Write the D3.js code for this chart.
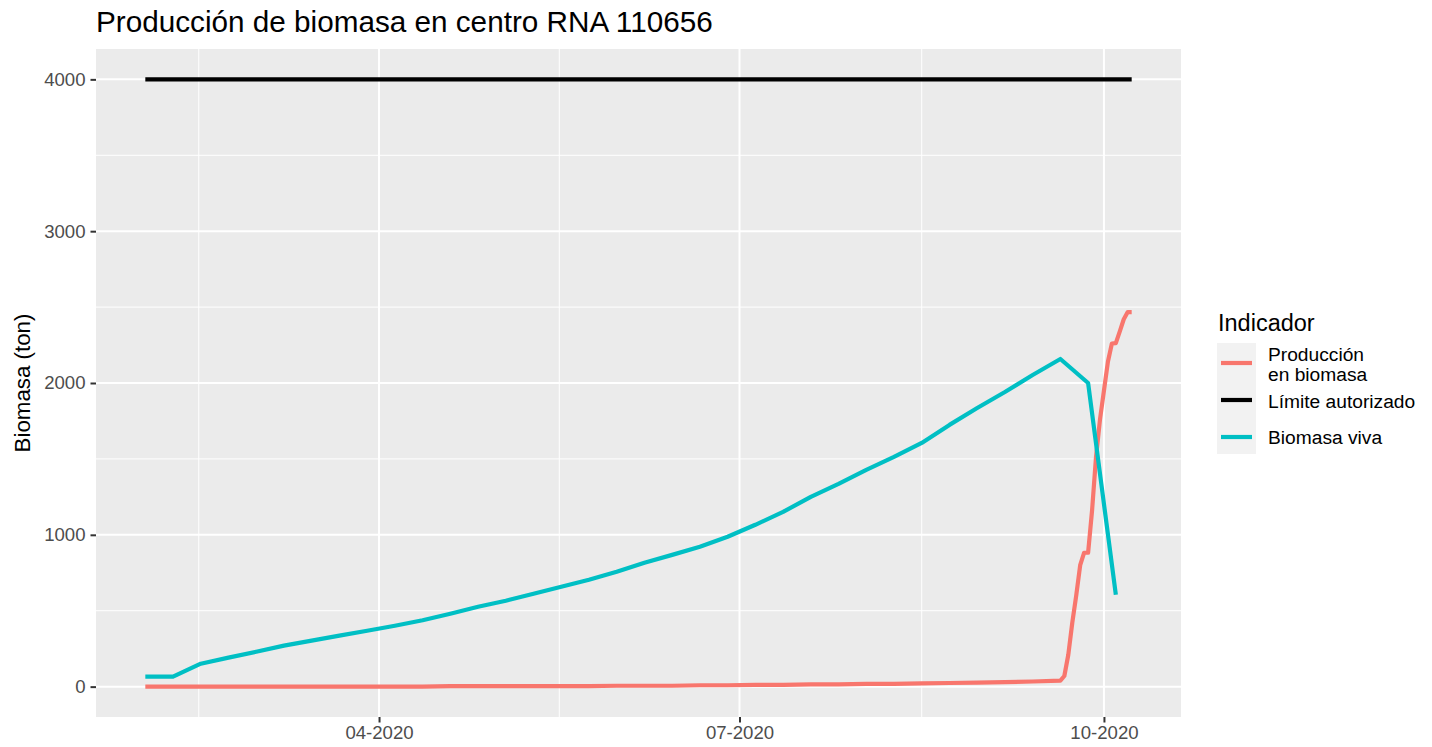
<!DOCTYPE html>
<html>
<head>
<meta charset="utf-8">
<script src="https://d3js.org/d3.v7.min.js"></script>
<style>
  body { margin: 0; background: #fff; }
  svg { font-family: "Liberation Sans", Arial, sans-serif; }
</style>
</head>
<body>
<script>
var width = 1432;
var height = 747;

var chartTitle = "Producción de biomasa en centro RNA 110656";
var yTitle = "Biomasa (ton)";
var legendTitle = "Indicador";

// Biomasa viva (semanal)
var vivaDates = ["2020-02-02", "2020-02-09", "2020-02-16", "2020-02-23", "2020-03-01", "2020-03-08",
  "2020-03-15", "2020-03-22", "2020-03-29", "2020-04-05", "2020-04-12", "2020-04-19",
  "2020-04-26", "2020-05-03", "2020-05-10", "2020-05-17", "2020-05-24", "2020-05-31",
  "2020-06-07", "2020-06-14", "2020-06-21", "2020-06-28", "2020-07-05", "2020-07-12",
  "2020-07-19", "2020-07-26", "2020-08-02", "2020-08-09", "2020-08-16", "2020-08-23",
  "2020-08-30", "2020-09-06", "2020-09-13", "2020-09-20", "2020-09-27", "2020-10-04"];
var vivaValues = [66, 66, 151, 191, 230, 270, 303, 336, 368, 401, 437, 480,
  526, 566, 612, 658, 704, 757, 816, 868, 921, 987, 1066, 1151,
  1250, 1336, 1428, 1513, 1605, 1724, 1835, 1941, 2053, 2158, 2000, 605];

// Producción en biomasa (acumulada)
var prodDates = ["2020-02-02", "2020-04-12", "2020-04-19", "2020-05-24", "2020-05-31", "2020-06-14",
  "2020-06-21", "2020-06-28", "2020-07-05", "2020-07-12", "2020-07-19", "2020-07-26",
  "2020-08-02", "2020-08-09", "2020-08-16", "2020-08-23", "2020-08-30", "2020-09-06",
  "2020-09-13", "2020-09-20", "2020-09-21", "2020-09-22", "2020-09-23", "2020-09-24",
  "2020-09-25", "2020-09-26", "2020-09-27", "2020-09-28", "2020-09-29", "2020-09-30",
  "2020-10-01", "2020-10-02", "2020-10-03", "2020-10-04", "2020-10-05", "2020-10-06",
  "2020-10-07", "2020-10-08"];
var prodValues = [0, 0, 3, 3, 6, 6, 9, 9, 12, 12, 15, 15,
  18, 18, 21, 24, 27, 30, 34, 39, 70, 210, 420, 600,
  800, 882, 882, 1160, 1513, 1760, 1950, 2140, 2260, 2263, 2340, 2420,
  2467, 2467];

// Límite autorizado
var limiteDates = ["2020-02-02", "2020-10-08"];
var limiteValues = [4000, 4000];

var seriesNames = ["Producción\nen biomasa", "Límite autorizado", "Biomasa viva"];
var seriesColors = ["#F8766D", "#000000", "#00BFC4"];

var yTicks = [0, 1000, 2000, 3000, 4000];
var yMinor = [500, 1500, 2500, 3500];
var xTickDates = ["2020-01-01", "2020-04-01", "2020-07-01", "2020-10-01", "2021-01-01"];

var parse = d3.timeParse("%Y-%m-%d");

function makeSeries(dates, values) {
  return dates.map(function (d, i) {
    return { date: parse(d), value: values[i] };
  });
}

var series = [
  makeSeries(prodDates, prodValues),
  makeSeries(limiteDates, limiteValues),
  makeSeries(vivaDates, vivaValues)
];

var panel = { left: 96, right: 1181, top: 49, bottom: 717 };

var allDates = [].concat(series[0], series[1], series[2]).map(function (d) { return d.date; });
var ext = d3.extent(allDates);
var span = ext[1] - ext[0];
var x = d3.scaleTime()
  .domain([new Date(+ext[0] - span * 0.05), new Date(+ext[1] + span * 0.05)])
  .range([panel.left, panel.right]);

var y = d3.scaleLinear()
  .domain([-200, 4200])
  .range([panel.bottom, panel.top]);

var svg = d3.select("body").append("svg")
  .attr("width", width)
  .attr("height", height);

svg.append("rect")
  .attr("x", panel.left).attr("y", panel.top)
  .attr("width", panel.right - panel.left)
  .attr("height", panel.bottom - panel.top)
  .attr("fill", "#EBEBEB");

var dom = x.domain();
var xMajor = xTickDates.map(parse);
var xMinor = [];
for (var i = 0; i < xMajor.length - 1; i++) {
  xMinor.push(new Date((+xMajor[i] + +xMajor[i + 1]) / 2));
}
xMinor = xMinor.filter(function (d) { return d >= dom[0] && d <= dom[1]; });
xMajor = xMajor.filter(function (d) { return d >= dom[0] && d <= dom[1]; });

var grid = svg.append("g");
grid.selectAll(".ymin").data(yMinor).enter().append("line")
  .attr("x1", panel.left).attr("x2", panel.right)
  .attr("y1", function (d) { return y(d); }).attr("y2", function (d) { return y(d); })
  .attr("stroke", "#fff").attr("stroke-width", 1);
grid.selectAll(".xmin").data(xMinor).enter().append("line")
  .attr("y1", panel.top).attr("y2", panel.bottom)
  .attr("x1", function (d) { return x(d); }).attr("x2", function (d) { return x(d); })
  .attr("stroke", "#fff").attr("stroke-width", 1);
grid.selectAll(".ymaj").data(yTicks).enter().append("line")
  .attr("x1", panel.left).attr("x2", panel.right)
  .attr("y1", function (d) { return y(d); }).attr("y2", function (d) { return y(d); })
  .attr("stroke", "#fff").attr("stroke-width", 2);
grid.selectAll(".xmaj").data(xMajor).enter().append("line")
  .attr("y1", panel.top).attr("y2", panel.bottom)
  .attr("x1", function (d) { return x(d); }).attr("x2", function (d) { return x(d); })
  .attr("stroke", "#fff").attr("stroke-width", 2);

// axes
var yAxis = d3.axisLeft(y).tickValues(yTicks).tickSize(5.5).tickPadding(5).tickFormat(d3.format("d"));
var yg = svg.append("g").attr("transform", "translate(" + panel.left + ",0)").call(yAxis);
var xAxis = d3.axisBottom(x).tickValues(xMajor).tickSize(5.5).tickPadding(3).tickFormat(d3.timeFormat("%m-%Y"));
var xg = svg.append("g").attr("transform", "translate(0," + panel.bottom + ")").call(xAxis);
[yg, xg].forEach(function (g) {
  g.select(".domain").remove();
  g.selectAll(".tick line").attr("stroke", "#333333").attr("stroke-width", 2);
  g.selectAll(".tick text").attr("fill", "#4D4D4D").style("font-size", "18.6px");
});

// lines
var line = d3.line()
  .x(function (d) { return x(d.date); })
  .y(function (d) { return y(d.value); });

svg.append("g").selectAll("path").data(series).enter().append("path")
  .attr("d", line)
  .attr("fill", "none")
  .attr("stroke", function (d, i) { return seriesColors[i]; })
  .attr("stroke-width", 4.2)
  .attr("stroke-linejoin", "round")
  .attr("stroke-linecap", "butt");

// titles
svg.append("text")
  .attr("x", panel.left).attr("y", 32)
  .style("font-size", "29.7px")
  .attr("fill", "#000")
  .text(chartTitle);

svg.append("text")
  .attr("transform", "translate(30," + ((panel.top + panel.bottom) / 2) + ") rotate(-90)")
  .attr("text-anchor", "middle")
  .style("font-size", "22.3px")
  .attr("fill", "#000")
  .text(yTitle);

// legend
var lg = svg.append("g").attr("transform", "translate(1217,0)");
lg.append("text").attr("x", 1).attr("y", 331).style("font-size", "23.5px").text(legendTitle);
lg.append("rect").attr("x", 0).attr("y", 343).attr("width", 39).attr("height", 111).attr("fill", "#F2F2F2");
var keyY = [363, 400, 437];
var labelY = [[361, 381], [408], [444]];
seriesNames.forEach(function (name, i) {
  lg.append("line")
    .attr("x1", 4).attr("x2", 35)
    .attr("y1", keyY[i]).attr("y2", keyY[i])
    .attr("stroke", seriesColors[i]).attr("stroke-width", 4.2);
  var t = lg.append("text").attr("x", 51).style("font-size", "19.2px").attr("fill", "#000");
  name.split("\n").forEach(function (part, j) {
    t.append("tspan").attr("x", 51).attr("y", labelY[i][j]).text(part);
  });
});
</script>
</body>
</html>
